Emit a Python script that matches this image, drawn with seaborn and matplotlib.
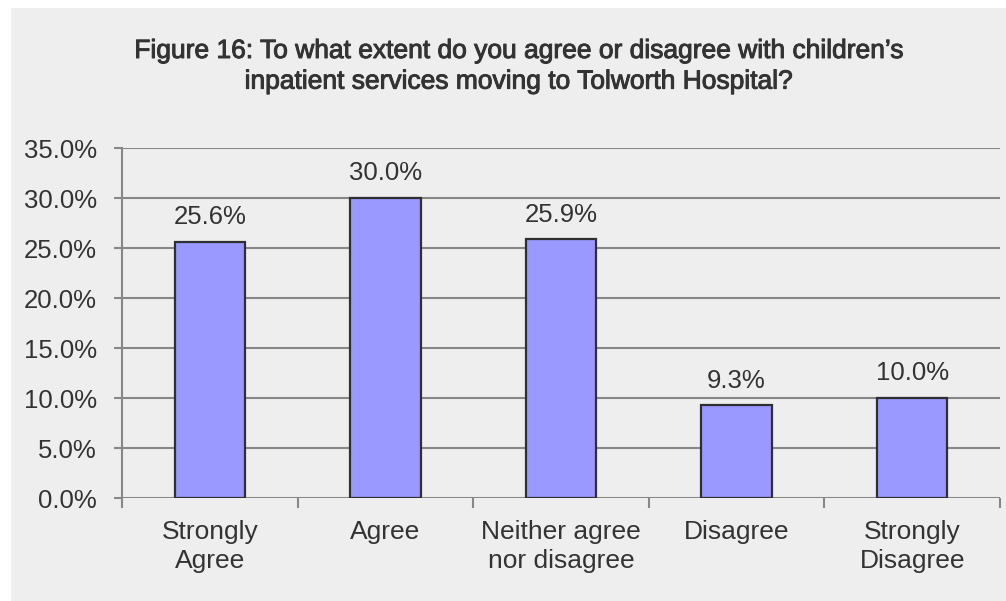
import matplotlib
matplotlib.use("Agg")
import matplotlib.pyplot as plt
import matplotlib.patheffects as pe
import seaborn as sns
import numpy as np
from matplotlib.patches import Rectangle
from matplotlib.ticker import FixedLocator, FuncFormatter

categories = ["Strongly\nAgree", "Agree", "Neither agree\nnor disagree", "Disagree", "Strongly\nDisagree"]
values = [25.6, 30.0, 25.9, 9.3, 10.0]
y_ticks = [0, 5, 10, 15, 20, 25, 30, 35]
title = ("Figure 16: To what extent do you agree or disagree with children\u2019s\n"
         "inpatient services moving to Tolworth Hospital?")

sns.set_theme(style="white")
plt.rcParams["font.family"] = ["Liberation Sans", "DejaVu Sans"]

W, H = 1006, 601
fig = plt.figure(figsize=(W / 100, H / 100), dpi=100)
fig.patch.set_facecolor("white")

# grey chart area behind everything
fig.patches.append(Rectangle((11 / W, 0), 1 - 11 / W, 1 - 8 / H, transform=fig.transFigure,
                             facecolor="#EEEEEE", edgecolor="none", zorder=-10))

ax = fig.add_axes([122 / W, 1 - 498 / H, (1000 - 122) / W, (498 - 148) / H])
ax.set_facecolor("none")

text_col = "#333333"
grid_col = "#878787"

sns.barplot(x=categories, y=values, color="#9999FF", edgecolor="#2F2F2F",
            linewidth=1.6, width=0.4, saturation=1, ax=ax, zorder=3)

ax.set_xlim(-0.5, len(categories) - 0.5)
ax.set_ylim(0, 35)
ax.yaxis.set_major_locator(FixedLocator(y_ticks))
ax.yaxis.set_major_formatter(FuncFormatter(lambda v, p: f"{v:.1f}%"))
ax.grid(axis="y", color=grid_col, linewidth=1.5, zorder=1)
ax.set_axisbelow(True)

for s in ["top", "right", "bottom"]:
    ax.spines[s].set_visible(False)
ax.spines["left"].set_color(grid_col)
ax.spines["left"].set_linewidth(1.5)

ax.tick_params(axis="y", direction="out", length=6, width=1.5, color=grid_col,
               labelsize=18.5, labelcolor=text_col, pad=12, left=True)
ax.tick_params(axis="x", which="major", length=0, labelsize=19, labelcolor=text_col, pad=16)
ax.set_xticks(np.arange(-0.5, len(categories), 1.0), minor=True)
ax.tick_params(axis="x", which="minor", direction="out", length=7, width=1.5,
               color=grid_col, bottom=True)
for lbl in ax.get_xticklabels():
    lbl.set_linespacing(1.25)

ax.set_xlabel("")
ax.set_ylabel("")

for cont in ax.containers:
    ax.bar_label(cont, labels=[f"{v:.1f}%" for v in values], padding=9,
                 fontsize=18.5, color=text_col)

fig.text(519 / W, 1 - 39 / H, title, ha="center", va="top", fontsize=19,
         color=text_col, linespacing=1.35,
         path_effects=[pe.withStroke(linewidth=0.7, foreground=text_col)])

fig.savefig("out.png", dpi=100, facecolor="white")
